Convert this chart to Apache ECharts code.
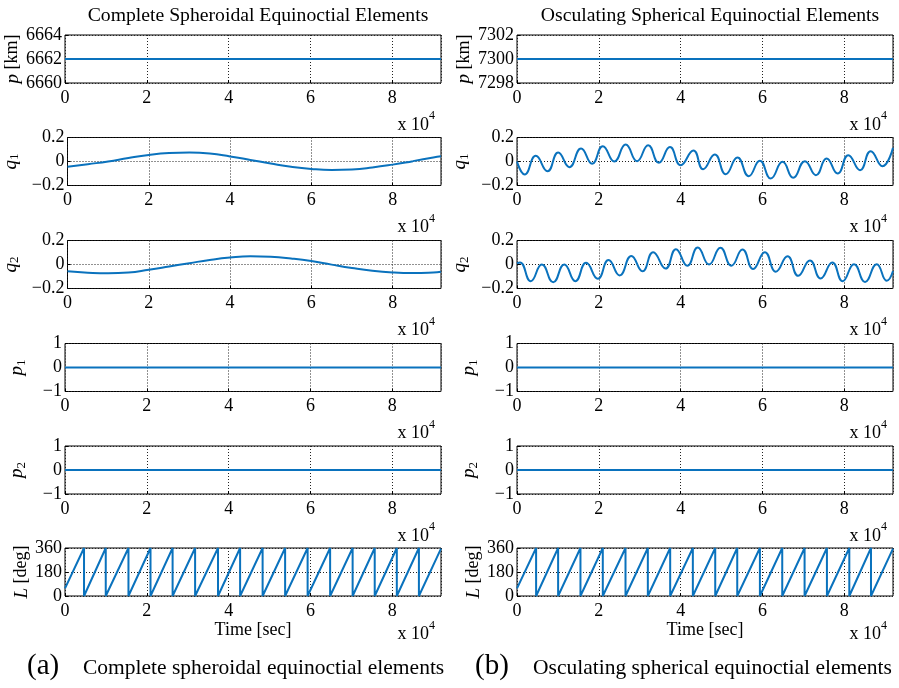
<!DOCTYPE html>
<html><head><meta charset="utf-8">
<script src="https://cdn.jsdelivr.net/npm/echarts@6/dist/echarts.min.js"></script>
<style>html,body{margin:0;padding:0;background:#fff}#c{width:899px;height:688px}</style>
</head><body><div id="c"></div>
<script>
// ---------------- data (time in seconds) ----------------
const T_END = 91900;
const xTickStep = 20000;

// constant elements
const pSpan = [0, T_END];
const pLeftValues = [6662, 6662];
const pRightValues = [7300, 7300];
const p1LeftValues = [0, 0];
const p2LeftValues = [0, 0];
const p1RightValues = [0, 0];
const p2RightValues = [0, 0];

// complete spheroidal q1, q2 (every 5000 s)
const qLeftT = [0, 5000, 10000, 15000, 20000, 25000, 30000, 35000, 40000, 45000, 50000, 55000, 60000, 65000, 70000, 75000, 80000, 85000, 90000, 91900];
const q1LeftV = [-0.044, -0.022, 0.0, 0.030, 0.055, 0.070, 0.074, 0.066, 0.042, 0.013, -0.017, -0.044, -0.062, -0.070, -0.066, -0.050, -0.026, 0.003, 0.033, 0.043];
const q2LeftV = [-0.057, -0.068, -0.073, -0.067, -0.044, -0.017, 0.011, 0.038, 0.058, 0.068, 0.064, 0.050, 0.029, -0.001, -0.029, -0.052, -0.066, -0.071, -0.066, -0.060];

// osculating spherical q1, q2: extrema
const q1RightT = [0, 1890, 4590, 7460, 10080, 12790, 15660, 18360, 20980, 23770, 26560, 29340, 32050, 34670, 37380, 40000, 43110, 45500, 48330, 51020, 53880, 56650, 59350, 62040, 64900, 67510, 70370, 73060, 75670, 78370, 80980, 83840, 86450, 89310, 91900];
const q1RightV = [0.0, -0.108, 0.047, -0.081, 0.075, -0.047, 0.108, -0.019, 0.128, 0.0, 0.142, 0.003, 0.136, -0.011, 0.120, -0.031, 0.092, -0.064, 0.058, -0.106, 0.033, -0.122, 0.006, -0.142, -0.003, -0.136, 0.003, -0.114, 0.025, -0.100, 0.053, -0.072, 0.086, -0.039, 0.114];
const q2RightT = [0, 740, 3360, 6070, 8850, 11560, 14260, 16890, 19750, 22380, 25080, 27950, 30660, 33280, 36310, 38850, 41640, 44180, 46940, 49710, 52400, 55100, 57710, 60570, 63270, 66120, 68730, 71590, 74200, 77060, 79590, 82370, 85060, 87920, 90370, 91900];
const q2RightV = [0.010, 0.017, -0.139, 0.0, -0.148, 0.0, -0.139, 0.014, -0.119, 0.037, -0.091, 0.071, -0.057, 0.102, -0.034, 0.128, -0.011, 0.142, 0.0, 0.140, -0.010, 0.125, -0.037, 0.102, -0.060, 0.068, -0.094, 0.034, -0.116, 0.017, -0.139, 0.003, -0.145, 0.003, -0.136, -0.054];

// true longitude L: times at which it wraps 360 -> 0
const lWrapLeft = [4650, 9960, 15510, 20900, 26300, 31800, 37400, 42800, 48300, 53800, 59300, 64800, 70300, 75700, 81100, 86500];
const lWrapRight = [4670, 10050, 15510, 20970, 26520, 31980, 37440, 42980, 48450, 53830, 59370, 64830, 70290, 75750, 81220, 86520];
const lStartLeft = 57, lEndLeft = 355;
const lStartRight = 57, lEndRight = 355;

const panelTitles = ['Complete Spheroidal Equinoctial Elements', 'Osculating Spherical Equinoctial Elements'];
const captionTags = ['(a)', '(b)'];
const captionTexts = ['Complete spheroidal equinoctial elements', 'Osculating spherical equinoctial elements'];
const yNames = ['{i|p} [km]', '{i|q}{s|1}', '{i|q}{s|2}', '{i|p}{s|1}', '{i|p}{s|2}', '{i|L} [deg]'];
const xLabel = 'Time [sec]';

// ---------------- helpers ----------------
function zip(t, v) { return t.map((x, i) => [x, v[i]]); }
function sawtooth(wraps, v0, vEnd) {
  const out = [[0, v0]];
  wraps.forEach(w => { out.push([w, 360]); out.push([w, 0]); });
  out.push([T_END, vEnd]);
  return out;
}

// ---------------- layout ----------------
const FONT = "'Liberation Serif', 'Times New Roman', serif";
const colLeft = [65, 517];
const plotW = 376;
const rowTop = [35, 137.5, 240.5, 343.5, 446, 548];
const plotH = 48;
const nameGaps = [[41, 46, 46, 37, 37, 32], [42, 46, 46, 37, 37, 32]];
const LINE = '#0a72bd';

const yAxesSpec = [
  [{min: 6660, max: 6664, interval: 2}, {min: 7298, max: 7302, interval: 2}],
  [{min: -0.2, max: 0.2, interval: 0.2}, {min: -0.2, max: 0.2, interval: 0.2}],
  [{min: -0.2, max: 0.2, interval: 0.2}, {min: -0.2, max: 0.2, interval: 0.2}],
  [{min: -1, max: 1, interval: 1}, {min: -1, max: 1, interval: 1}],
  [{min: -1, max: 1, interval: 1}, {min: -1, max: 1, interval: 1}],
  [{min: 0, max: 360, interval: 180}, {min: 0, max: 360, interval: 180}]
];
const seriesData = [
  [zip(pSpan, pLeftValues), zip(pSpan, pRightValues)],
  [zip(qLeftT, q1LeftV), zip(q1RightT, q1RightV)],
  [zip(qLeftT, q2LeftV), zip(q2RightT, q2RightV)],
  [zip(pSpan, p1LeftValues), zip(pSpan, p1RightValues)],
  [zip(pSpan, p2LeftValues), zip(pSpan, p2RightValues)],
  [sawtooth(lWrapLeft, lStartLeft, lEndLeft), sawtooth(lWrapRight, lStartRight, lEndRight)]
];
const smoothRow = [false, 0.5, 0.5, false, false, false];

const grids = [], xAxes = [], yAxes = [], series = [], graphics = [];
const dotted = {color: '#222', type: [1, 2], width: 1};
function fmtY(v) {
  const s = String(Math.round(v * 1000) / 1000);
  return s.replace('-', '\u2212');
}
let gi = 0;
for (let r = 0; r < 6; r++) {
  for (let c = 0; c < 2; c++) {
    grids.push({left: colLeft[c], top: rowTop[r], width: plotW, height: plotH,
      show: true, borderColor: '#000', borderWidth: 1, backgroundColor: 'transparent', containLabel: false});
    xAxes.push({type: 'value', gridIndex: gi, min: 0, max: T_END, interval: xTickStep,
      axisLine: {show: false, onZero: false},
      axisTick: {show: true, inside: true, length: 3, lineStyle: {color: '#000'}},
      axisLabel: {show: true, showMaxLabel: false, margin: 6, color: '#000', fontSize: 18, fontFamily: FONT,
        formatter: v => String(Math.round(v / 10000))},
      splitLine: {show: true, lineStyle: dotted},
      name: r === 5 ? xLabel : '', nameLocation: 'middle', nameGap: 20,
      nameTextStyle: {color: '#000', fontSize: 18, fontFamily: FONT}
    });
    const ys = yAxesSpec[r][c];
    yAxes.push({type: 'value', gridIndex: gi, min: ys.min, max: ys.max, interval: ys.interval,
      axisLine: {show: false, onZero: false},
      axisTick: {show: true, inside: true, length: 3, lineStyle: {color: '#000'}},
      axisLabel: {show: true, margin: 3, color: '#000', fontSize: 18, fontFamily: FONT, formatter: fmtY},
      splitLine: {show: true, lineStyle: dotted},
      name: yNames[r], nameLocation: 'middle', nameRotate: 90, nameGap: nameGaps[c][r],
      nameTextStyle: {color: '#000', fontSize: 18, fontFamily: FONT,
        rich: {
          i: {fontStyle: 'italic', fontSize: 19, fontFamily: FONT, color: '#000', lineHeight: 22, verticalAlign: 'middle'},
          s: {fontSize: 13, fontFamily: FONT, color: '#000', verticalAlign: 'bottom'}
        }}
    });
    series.push({type: 'line', xAxisIndex: gi, yAxisIndex: gi, data: seriesData[r][c],
      showSymbol: false, symbol: 'none', smooth: smoothRow[r],
      lineStyle: {color: LINE, width: 2}, itemStyle: {color: LINE}, animation: false, silent: true});
    // "x 10^4" multiplier label
    const bottom = rowTop[r] + plotH;
    graphics.push({type: 'text', x: colLeft[c] + plotW - 6, y: bottom + (r === 5 ? 38.5 : 42),
      style: {text: '{a|x 10}{b|4}', align: 'right', verticalAlign: 'middle',
        rich: {a: {fontSize: 18, fontFamily: FONT, fill: '#000', lineHeight: 30, verticalAlign: 'middle'},
               b: {fontSize: 12, fontFamily: FONT, fill: '#000', verticalAlign: 'top'}}}});
    gi++;
  }
}
for (let c = 0; c < 2; c++) {
  graphics.push({type: 'text', x: [27, 475][c], y: 666,
    style: {text: captionTags[c], fontSize: 29, fontFamily: FONT, fill: '#000', verticalAlign: 'middle'}});
  graphics.push({type: 'text', x: [83, 533][c], y: 668,
    style: {text: captionTexts[c], fontSize: 21.5, fontFamily: FONT, fill: '#000', verticalAlign: 'middle'}});
}
const titles = panelTitles.map((t, c) => ({text: t, left: colLeft[c] + plotW / 2, top: 1, textAlign: 'center',
  textStyle: {fontSize: 19.7, fontWeight: 'normal', fontFamily: FONT, color: '#000'}}));

const chart = echarts.init(document.getElementById('c'), null, {renderer: 'canvas'});
chart.setOption({
  animation: false,
  backgroundColor: '#fff',
  title: titles,
  grid: grids,
  xAxis: xAxes,
  yAxis: yAxes,
  series: series,
  graphic: graphics
});
</script>
</body></html>
